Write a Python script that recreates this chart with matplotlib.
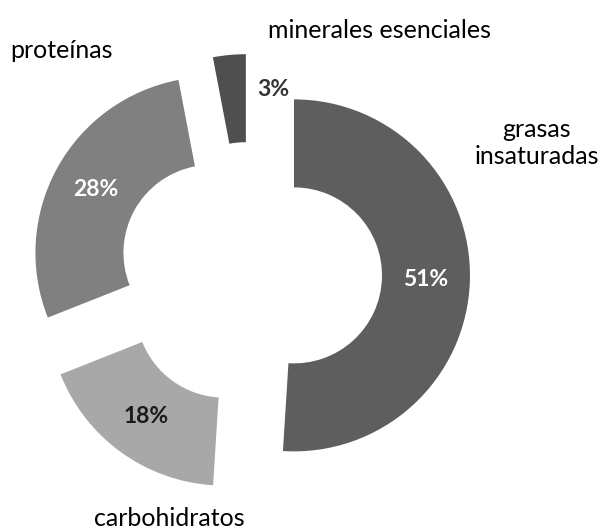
import matplotlib
matplotlib.use('Agg')
import matplotlib.pyplot as plt

# datos
categorias = ['grasas\ninsaturadas', 'carbohidratos', 'proteínas', 'minerales esenciales']
porcentajes = [51, 18, 28, 3]
colores = ['#5e5e5e', '#a8a8a8', '#808080', '#4f4f4f']
color_pct = ['white', '#1a1a1a', 'white', '#333333']

plt.rcParams['font.family'] = ['Lato', 'DejaVu Sans']

fig = plt.figure(figsize=(6.01, 5.31), dpi=100)
ax = fig.add_axes([0, 0, 1, 1])
# axes in pixel units, y up
ax.set_xlim(0, 601)
ax.set_ylim(0, 531)
ax.set_aspect('equal')
ax.axis('off')

R = 176
wedges, textos, pcts = ax.pie(porcentajes, colors=colores, startangle=90,
                              counterclock=False, radius=R, center=(250, 257),
                              explode=[44] * len(porcentajes),
                              autopct='%d%%', pctdistance=0.75,
                              wedgeprops=dict(width=R * 0.5, linewidth=0),
                              textprops=dict(fontsize=16.5, fontweight='bold'))
ax.set_xlim(0, 601)
ax.set_ylim(0, 531)

for t, c in zip(pcts, color_pct):
    t.set_color(c)
# the small slice has its value placed beside it
pcts[3].set_position((273, 441))

# category labels
pos_labels = [(537, 388), (169, 13), (62, 481), (379, 501)]
for nombre, (x, y) in zip(categorias, pos_labels):
    ax.text(x, y, nombre, ha='center', va='center', fontsize=18,
            color='black', linespacing=1.25)

plt.savefig('out.png', dpi=100)
